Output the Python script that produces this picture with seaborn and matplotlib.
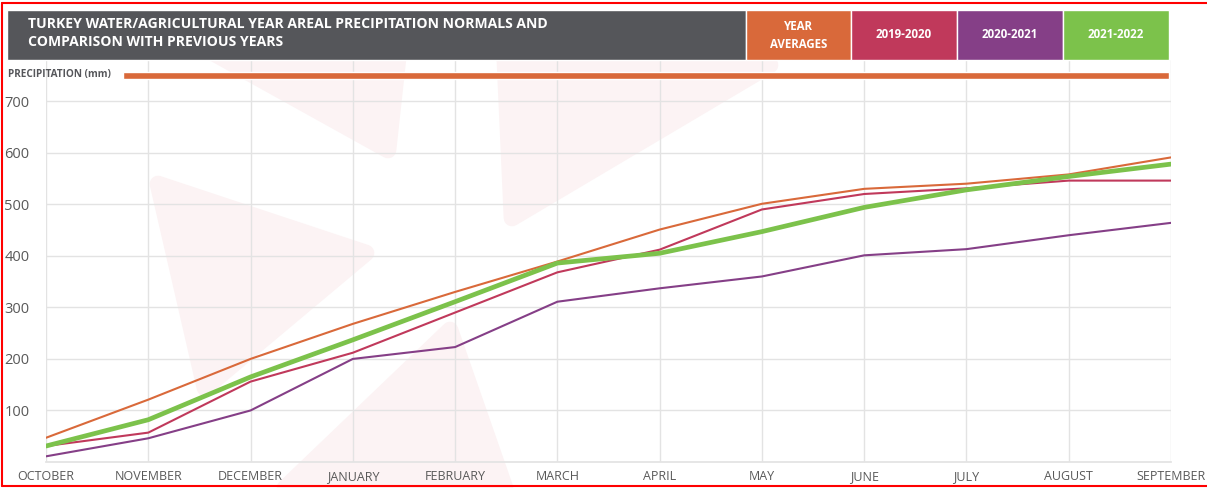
import numpy as np
import pandas as pd
import matplotlib
matplotlib.use('Agg')
import matplotlib.pyplot as plt
import seaborn as sns
from matplotlib.patches import Rectangle, Polygon

# monthly cumulative areal precipitation (mm), water year Oct-Sep
months = ['OCTOBER', 'NOVEMBER', 'DECEMBER', 'JANUARY', 'FEBRUARY', 'MARCH',
          'APRIL', 'MAY', 'JUNE', 'JULY', 'AUGUST', 'SEPTEMBER']
year_avg = [47, 121, 200, 268, 330, 389, 451, 501, 530, 540, 558, 591]
y2019_2020 = [31, 57, 156, 212, 290, 368, 412, 490, 520, 531, 546, 546]
y2020_2021 = [11, 46, 100, 200, 223, 311, 337, 360, 401, 413, 440, 464]
y2021_2022 = [31, 82, 165, 237, 311, 386, 405, 447, 494, 528, 554, 578]

series_names = ['YEAR\nAVERAGES', '2019-2020', '2020-2021', '2021-2022']
series_values = [year_avg, y2019_2020, y2020_2021, y2021_2022]
y_ticks = [100, 200, 300, 400, 500, 600, 700]

COLORS = ['#D9693A', '#C0395B', '#853F87', '#7CC24B']
WIDTHS = [1.5, 1.5, 1.5, 3.4]
HEADER_GRAY = '#55565A'
TEXT_GRAY = '#595959'
GRID = '#E3E3E3'

W, H = 1207, 488


def px(x, y):
    """pixel coords (top-left origin) -> figure fraction"""
    return x / W, 1 - y / H


sns.set_theme(style='white')
plt.rcParams['font.family'] = ['Open Sans', 'DejaVu Sans']

df = pd.concat([pd.DataFrame({'month': months, 'mm': vals, 'series': name})
                for name, vals in zip(series_names, series_values)], ignore_index=True)

fig = plt.figure(figsize=(W / 100, H / 100), dpi=100)
fig.patch.set_facecolor('white')

# faint watermark shapes behind the chart
wm = '#FCF3F4'
for pts in [[(190, 40), (400, 40), (388, 150)],
            [(158, 184), (366, 253), (205, 388)],
            [(504, 40), (512, 218), (770, 65)],
            [(450, 330), (285, 488), (505, 488)]]:
    fig.patches.append(Polygon([px(*p) for p in pts], closed=True, transform=fig.transFigure,
                               facecolor=wm, edgecolor=wm, linewidth=12, joinstyle='round',
                               zorder=0))

l, b = px(46, 462)
r, t = px(1171, 60)
ax = fig.add_axes([l, b, r - l, t - b])
ax.set_facecolor('none')
ax.set_zorder(2)

for name, color, lw in zip(series_names, COLORS, WIDTHS):
    sns.lineplot(data=df[df['series'] == name], x='month', y='mm', color=color,
                 linewidth=lw, ax=ax, sort=False, legend=False)

ax.set_xlim(0, len(months) - 1)
ax.set_ylim(0, 780)
ax.set_yticks(y_ticks)
ax.set_xticks(range(len(months)))
ax.set_xticklabels(months)
ax.grid(True, color=GRID, linewidth=1)
ax.set_axisbelow(True)
for s in ['top', 'right', 'left']:
    ax.spines[s].set_visible(False)
ax.spines['bottom'].set_color(GRID)
ax.tick_params(axis='both', length=0, colors=TEXT_GRAY)
ax.tick_params(axis='x', labelsize=9, pad=6)
ax.tick_params(axis='y', labelsize=10.5, pad=12)
ax.set_xlabel('')
ax.set_ylabel('')

# header band
x0, y0 = px(7, 60)
x1, y1 = px(746, 10)
fig.patches.append(Rectangle((x0, y0), x1 - x0, y1 - y0, transform=fig.transFigure,
                             facecolor=HEADER_GRAY, zorder=3))
fig.text(*px(28, 17), 'TURKEY WATER/AGRICULTURAL YEAR AREAL PRECIPITATION NORMALS AND\n'
         'COMPARISON WITH PREVIOUS YEARS', color='white', fontsize=10.1, fontweight='bold',
         va='top', ha='left', linespacing=1.35, zorder=4)

edges = [746, 851, 957, 1063, 1169]
for i, (name, color) in enumerate(zip(series_names, COLORS)):
    a, c = px(edges[i], 60)
    d, e = px(edges[i + 1], 10)
    fig.patches.append(Rectangle((a, c), d - a, e - c, transform=fig.transFigure,
                                 facecolor=color, zorder=3))
    fig.text((a + d) / 2, (c + e) / 2, name, color='white', fontsize=8.3, fontweight='bold',
             ha='center', va='center', linespacing=1.5, zorder=4)

# axis caption and orange rule
fig.text(*px(8, 75), 'PRECIPITATION (mm)', color=HEADER_GRAY, fontsize=7.2,
         fontweight='bold', ha='left', va='center', zorder=4)
a, c = px(123, 79)
d, e = px(1169, 72)
fig.patches.append(Rectangle((a, c), d - a, e - c, transform=fig.transFigure,
                             facecolor=COLORS[0], zorder=3))

# red frame of the screenshot
red = '#FF0000'
fig.add_artist(plt.Line2D([px(2, 0)[0], 1], [px(0, 3)[1]] * 2, color=red, lw=1.5,
                          transform=fig.transFigure))
fig.add_artist(plt.Line2D([px(2, 0)[0]] * 2, [px(0, 3)[1], px(0, 486)[1]], color=red, lw=1.5,
                          transform=fig.transFigure))
fig.add_artist(plt.Line2D([px(2, 0)[0], 1], [px(0, 486)[1]] * 2, color=red, lw=1.5,
                          transform=fig.transFigure))

fig.savefig('out.png', dpi=100)
